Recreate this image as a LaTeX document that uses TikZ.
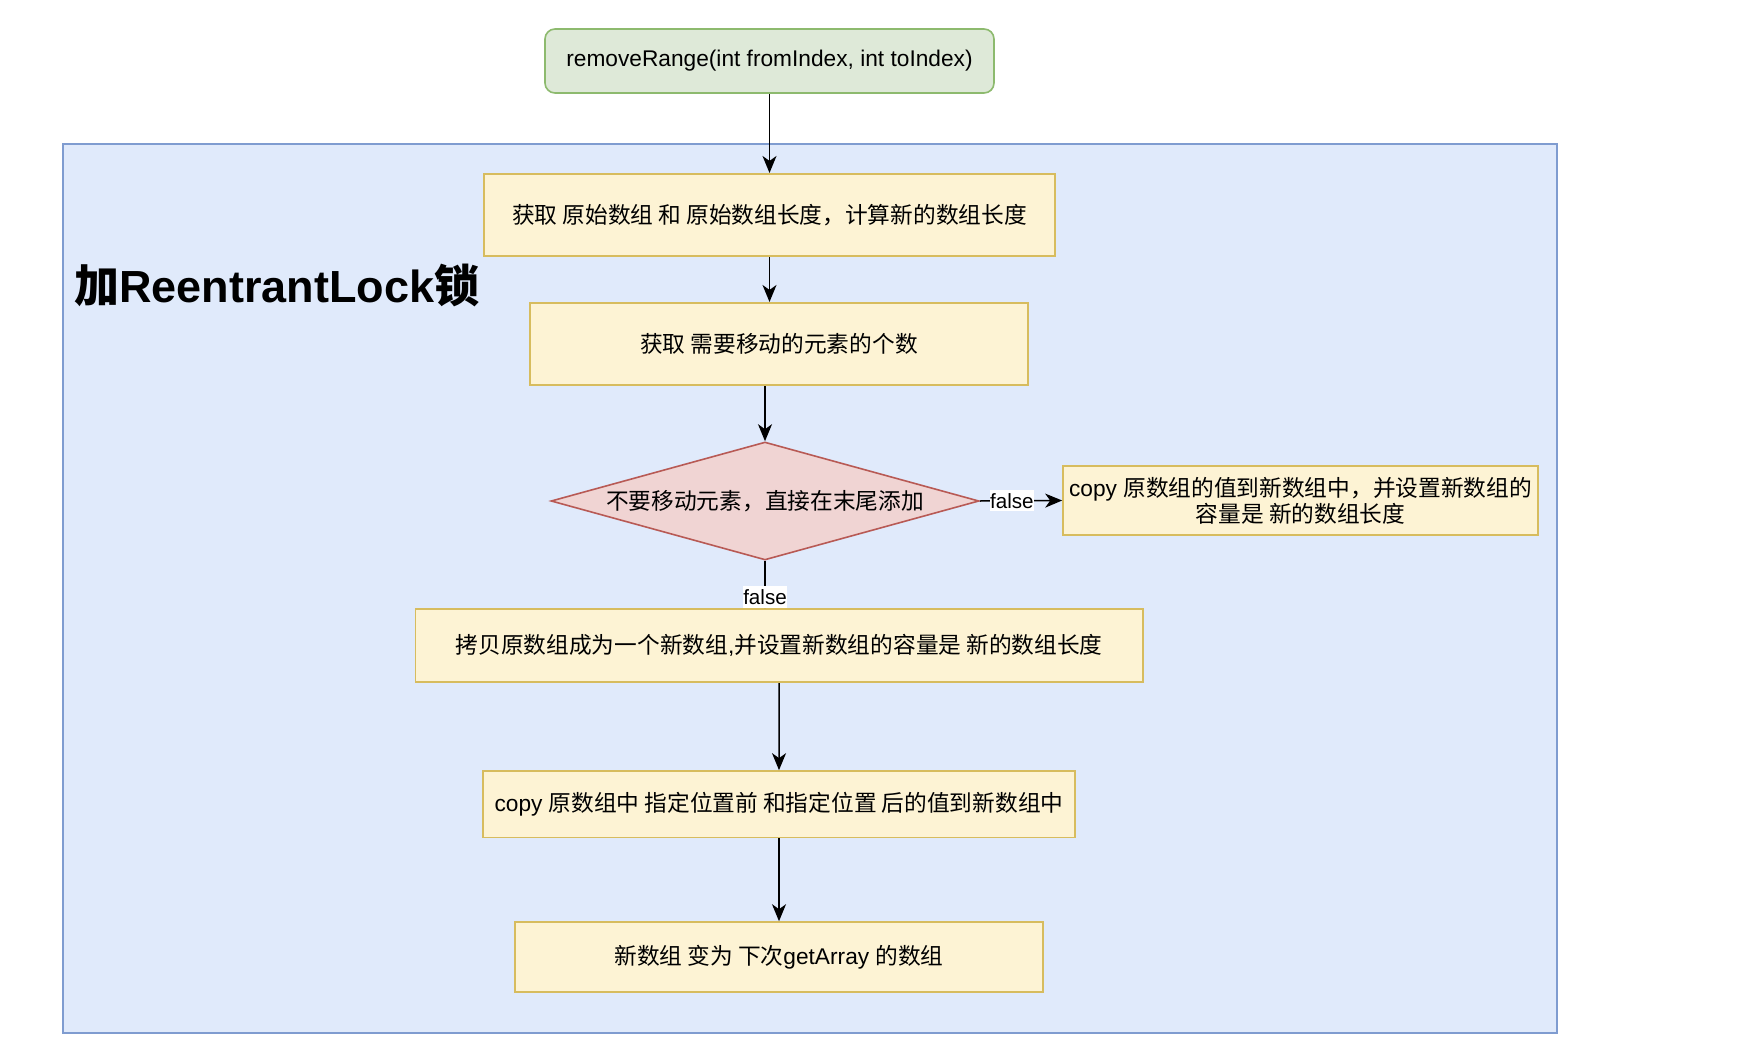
\documentclass[tikz,border=0pt]{standalone}
\usepackage{fontspec}
\setmainfont{Liberation Sans}
\newfontfamily\cjkfont{Noto Sans CJK SC}
\newcommand{\zh}[1]{{\cjkfont #1}}
\usetikzlibrary{arrows.meta,shapes.geometric}
\definecolor{contfill}{HTML}{E0EAFB}
\definecolor{contdraw}{HTML}{7F9CD0}
\definecolor{yelfill}{HTML}{FDF3D4}
\definecolor{yeldraw}{HTML}{D7BC5E}
\definecolor{redfill}{HTML}{F0D4D3}
\definecolor{reddraw}{HTML}{B85A55}
\definecolor{grnfill}{HTML}{DEE9D8}
\definecolor{grndraw}{HTML}{8DBA6E}
\tikzset{
  basefont/.style={font=\fontsize{22.7}{26}\selectfont},
  proc/.style={draw=yeldraw, fill=yelfill, line width=1.6pt, inner sep=0pt, basefont, align=center},
  startbox/.style={draw=grndraw, fill=grnfill, line width=1.6pt, rounded corners=10pt, inner sep=0pt, basefont},
  decision/.style={draw=reddraw, fill=redfill, line width=1.6pt, diamond, aspect=3.627, inner sep=0pt, minimum width=428pt, minimum height=118pt},
  txt/.style={inner sep=0pt, basefont},
  arr/.style={draw=black, line width=1.5pt, -{Stealth[length=17pt, width=14pt, inset=5pt]}},
  lbl/.style={fill=white, inner xsep=0.5pt, inner ysep=3pt, font=\fontsize{20.6}{24}\selectfont},
  titletxt/.style={inner sep=0pt, font=\fontsize{45}{50}\selectfont\bfseries}
}
\begin{document}
\begin{tikzpicture}[x=1pt, y=-1pt]
\useasboundingbox (0,0) rectangle (1742,1046);
\fill[white] (0,0) rectangle (1742,1046);
\draw[draw=contdraw, fill=contfill, line width=1.6pt] (63,144) rectangle (1557,1033);
\node[titletxt, anchor=west] (title) at (74,285) {\zh{加}ReentrantLock\zh{锁}};

\node[startbox, minimum width=449pt, minimum height=64pt] (start) at (769.5,61) {removeRange(int fromIndex, int toIndex)};
\node[proc, minimum width=571pt, minimum height=82.5pt] (b1) at (769.5,215) {\zh{获取 原始数组 和 原始数组长度，计算新的数组长度}};
\node[proc, minimum width=497.5pt, minimum height=82.5pt] (b2) at (779,344) {\zh{获取 需要移动的元素的个数}};
\node[decision] (d) at (765,501) {};
\node[txt] (dtext) at (765,501) {\zh{不要移动元素，直接在末尾添加}};
\node[proc, minimum width=475pt, minimum height=69pt] (rb) at (1300.5,500.5) {copy \zh{原数组的值到新数组中，并设置新数组的}\\\zh{容量是 新的数组长度}};
\node[proc, minimum width=727.5pt, minimum height=73pt] (b3) at (779.2,645.7) {\zh{拷贝原数组成为一个新数组},\zh{并设置新数组的容量是 新的数组长度}};
\node[proc, minimum width=592.5pt, minimum height=66.5pt] (b4) at (779,804.2) {copy \zh{原数组中 指定位置前 和指定位置 后的值到新数组中}};
\node[proc, minimum width=528pt, minimum height=70pt] (b5) at (779,957) {\zh{新数组 变为 下次}getArray \zh{的数组}};

\draw[arr] (start.south) -- (b1.north);
\draw[arr] (b1.south) -- (b1.south |- b2.north);
\draw[arr] (d.north |- b2.south) -- (d.north);
\draw[arr] (d.east) -- (rb.west) node[lbl, pos=0.39] (l1) {false};
\draw[arr] (d.south) -- (d.south |- b3.north) node[lbl, pos=0.76] (l2) {false};
\draw[arr] (b3.south) -- (b4.north);
\draw[arr] (b4.south) -- (b5.north);
\end{tikzpicture}
\end{document}
